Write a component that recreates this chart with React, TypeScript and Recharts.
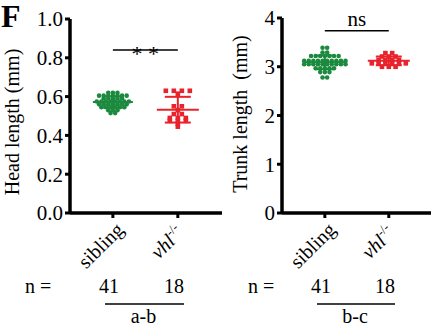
import React from "react";
import { ScatterChart, Scatter, XAxis, YAxis, ErrorBar, ReferenceLine } from "recharts";

const categories = ["sibling", "vhl"];
const sampleSizes = [41, 18];
const groupLabels = ["a-b", "b-c"];

// head length (mm)
const headSibling = [
  0.62, 0.62, 0.62,
  0.605, 0.605, 0.605, 0.605, 0.605, 0.605, 0.605,
  0.59, 0.59, 0.59, 0.59, 0.59,
  0.575, 0.575, 0.575, 0.575, 0.575, 0.575, 0.575, 0.575,
  0.56, 0.56, 0.56, 0.56, 0.56, 0.56, 0.56,
  0.545, 0.545, 0.545, 0.545, 0.545, 0.545,
  0.53, 0.53, 0.53,
  0.515, 0.515,
];
const headVhl = [
  0.63, 0.63, 0.63, 0.63, 0.615, 0.55, 0.55, 0.53, 0.51, 0.51,
  0.49, 0.49, 0.49, 0.475, 0.475, 0.475, 0.46, 0.445,
];

// trunk length (mm)
const trunkSibling = [
  3.39, 3.39,
  3.29, 3.29,
  3.22, 3.22, 3.22, 3.22, 3.22, 3.22, 3.22,
  3.12, 3.12, 3.12, 3.12, 3.12, 3.12, 3.12, 3.12, 3.12, 3.12,
  3.05, 3.05, 3.05, 3.05, 3.05, 3.05, 3.05, 3.05, 3.05, 3.05,
  2.97, 2.97, 2.97, 2.97, 2.97,
  2.89, 2.89, 2.89,
  2.78, 2.78,
];
const trunkVhl = [
  3.28, 3.28, 3.21, 3.21, 3.21, 3.14, 3.14, 3.14, 3.14,
  3.07, 3.07, 3.07, 3.07, 3.07, 3.07, 3.0, 3.0, 3.0,
];

const headTicks = [0, 0.2, 0.4, 0.6, 0.8, 1.0];
const trunkTicks = [0, 1, 2, 3, 4];

const GREEN = "#1b8a3e";
const RED = "#e8232b";
const FONT = "'Liberation Serif', 'Times New Roman', serif";

const mean = (a: number[]) => a.reduce((s, v) => s + v, 0) / a.length;
const sd = (a: number[]) => {
  const m = mean(a);
  return Math.sqrt(a.reduce((s, v) => s + (v - m) ** 2, 0) / (a.length - 1));
};

// GraphPad-like scatter: identical values share a row, spread sideways
function swarm(values: number[], center: number, stepPx: number, unitPx: number) {
  const counts = new Map<number, number>();
  values.forEach((v) => counts.set(v, (counts.get(v) ?? 0) + 1));
  const seen = new Map<number, number>();
  return values.map((v) => {
    const n = counts.get(v)!;
    const i = seen.get(v) ?? 0;
    seen.set(v, i + 1);
    return { x: center + ((i - (n - 1) / 2) * stepPx) / unitPx, y: v };
  });
}

type PanelProps = {
  left: number;
  width: number;
  yAxisWidth: number;
  top: number;
  plotBottom: number;
  xDomain: [number, number];
  yDomain: [number, number];
  yTicks: number[];
  yFormat: (v: number) => string;
  sibling: number[];
  vhl: number[];
  redStep: number;
  sig: string;
  sigY: number;
};

const CategoryTick = (props: any) => {
  const { x, y, payload } = props;
  if (payload.value === 1) {
    const ex = x + 12;
    const ey = y + 11;
    return (
      <text x={ex} y={ey} textAnchor="end" fontSize={20} fontFamily={FONT} fill="#000"
        transform={`rotate(-45, ${ex}, ${ey})`}>
        {categories[0]}
      </text>
    );
  }
  const ex = x + 7;
  const ey = y + 14;
  return (
    <text x={ex} y={ey} textAnchor="end" fontSize={20} fontFamily={FONT} fill="#000"
      transform={`rotate(-45, ${ex}, ${ey})`}>
      <tspan fontStyle="italic">{categories[1]}</tspan>
      <tspan dy={-8} fontSize={13}>-/-</tspan>
    </text>
  );
};

function Panel(p: PanelProps) {
  const plotW = p.width - p.yAxisWidth;
  const unitPx = plotW / (p.xDomain[1] - p.xDomain[0]);
  const sibPts = swarm(p.sibling, 1, 4.6, unitPx);
  const vhlPts = swarm(p.vhl, 2, p.redStep, unitPx);
  const sibStat = [{ x: 1, y: mean(p.sibling), err: sd(p.sibling) }];
  const vhlStat = [{ x: 2, y: mean(p.vhl), err: sd(p.vhl) }];
  const axisStyle = { stroke: "#000", strokeWidth: 3.5 };
  const meanLine = (color: string, half: number) => (s: any) => (
    <line x1={s.cx - half} x2={s.cx + half} y1={s.cy} y2={s.cy} stroke={color} strokeWidth={2} />
  );

  return (
    <div style={{ position: "absolute", left: p.left, top: 0 }}>
      <ScatterChart width={p.width} height={326}
        margin={{ top: p.top, right: 0, bottom: 0, left: 0 }}>
        <XAxis type="number" dataKey="x" domain={p.xDomain} ticks={[1, 2]}
          allowDataOverflow height={326 - p.plotBottom}
          axisLine={axisStyle} tickLine={{ stroke: "#000", strokeWidth: 3 }} tickSize={5}
          tick={<CategoryTick />} interval={0} />
        <YAxis type="number" dataKey="y" domain={p.yDomain} ticks={p.yTicks}
          allowDataOverflow width={p.yAxisWidth} tickFormatter={p.yFormat}
          axisLine={axisStyle} tickLine={{ stroke: "#000", strokeWidth: 3 }} tickSize={5}
          tick={{ fontSize: 21, fill: "#000", fontFamily: FONT }} interval={0} />
        <ReferenceLine segment={[{ x: 1, y: p.sigY }, { x: 2, y: p.sigY }]}
          stroke="#000" strokeWidth={1.5} ifOverflow="visible"
          label={(l: any) => {
            const vb = l.viewBox;
            const stars = p.sig.includes("*");
            return (
              <text x={vb.x + vb.width / 2} y={stars ? vb.y + 11 : vb.y - 5}
                textAnchor="middle" fontSize={stars ? 22 : 21} fontFamily={FONT} fill="#000">
                {p.sig}
              </text>
            );
          }} />
        <Scatter data={sibPts} isAnimationActive={false}
          shape={(s: any) => <circle cx={s.cx} cy={s.cy} r={2.3} fill={GREEN} />} />
        <Scatter data={vhlPts} isAnimationActive={false}
          shape={(s: any) => (
            <rect x={s.cx - 2.3} y={s.cy - 2.3} width={4.6} height={4.6} fill={RED} />
          )} />
        <Scatter data={sibStat} isAnimationActive={false} shape={meanLine(GREEN, 20)}>
          <ErrorBar dataKey="err" direction="y" width={10} stroke={GREEN} strokeWidth={2}
            isAnimationActive={false} />
        </Scatter>
        <Scatter data={vhlStat} isAnimationActive={false} shape={meanLine(RED, 21)}>
          <ErrorBar dataKey="err" direction="y" width={13} stroke={RED} strokeWidth={2}
            isAnimationActive={false} />
        </Scatter>
      </ScatterChart>
    </div>
  );
}

const tickPx = [
  [113, 178],
  [325, 389],
];

export default function App() {
  return (
    <div style={{ position: "absolute", left: 0, top: 0, width: 431, height: 326, background: "#fff", fontFamily: FONT }}>
      <Panel left={0} width={222} yAxisWidth={70} top={19} plotBottom={213}
        xDomain={[0.34, 2.68]} yDomain={[0, 1]} yTicks={headTicks}
        yFormat={(v) => v.toFixed(1)} sibling={headSibling} vhl={headVhl} redStep={8}
        sig="* *" sigY={0.84} />
      <Panel left={215} width={216} yAxisWidth={67} top={18} plotBottom={213}
        xDomain={[0.33, 2.66]} yDomain={[0, 4]} yTicks={trunkTicks}
        yFormat={(v) => String(v)} sibling={trunkSibling} vhl={trunkVhl} redStep={6.8}
        sig="ns" sigY={3.74} />
      <svg width={431} height={326} style={{ position: "absolute", left: 0, top: 0, pointerEvents: "none" }}>
        <text x={1} y={27} fontSize={32} fontWeight="bold" fontFamily={FONT} fill="#000">F</text>
        <text x={12} y={122} fontSize={20} fontFamily={FONT} fill="#000" textAnchor="middle"
          dominantBaseline="central" transform="rotate(-90, 12, 122)">Head length (mm)</text>
        <text x={240} y={114} fontSize={20} fontFamily={FONT} fill="#000" textAnchor="middle"
          dominantBaseline="central" transform="rotate(-90, 240, 114)" style={{ whiteSpace: "pre" }}>Trunk length  (mm)</text>
        {tickPx.map((ticks, i) => (
          <g key={i}>
            <text x={i === 0 ? 25 : 248} y={293} fontSize={20} fontFamily={FONT} fill="#000">n =</text>
            {sampleSizes.map((n, j) => (
              <text key={j} x={ticks[j] - 4} y={293} fontSize={20} fontFamily={FONT} fill="#000"
                textAnchor="middle">{n}</text>
            ))}
            <line x1={ticks[0] - 8} x2={ticks[1] + 6} y1={304} y2={304} stroke="#000" strokeWidth={1.5} />
            <text x={(ticks[0] + ticks[1]) / 2 - 2} y={323} fontSize={20} fontFamily={FONT} fill="#000"
              textAnchor="middle">{groupLabels[i]}</text>
          </g>
        ))}
      </svg>
    </div>
  );
}
